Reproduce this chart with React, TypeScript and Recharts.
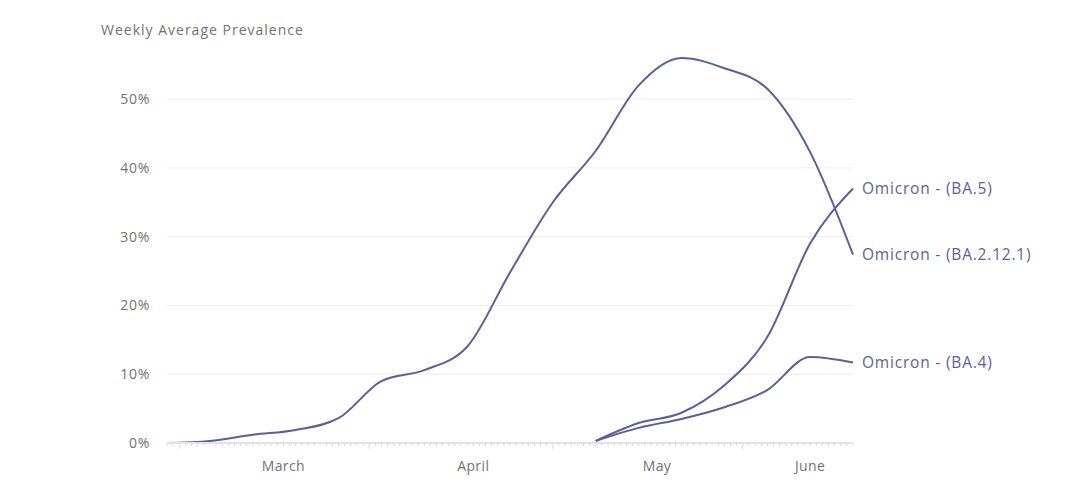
import { LineChart, Line, XAxis, YAxis, CartesianGrid, LabelList } from "recharts";

// days since Feb 27, one point per week
const days = [0, 7, 14, 21, 28, 35, 42, 49, 56, 63, 70, 77, 84, 91, 98, 105, 112];
const ba2121 = [0, 0.3, 1.2, 1.9, 3.6, 9.0, 10.6, 14.0, 24.8, 35.0, 42.5, 52.0, 56.0, 54.5, 51.5, 42.3, 27.4];
const ba5 = [null, null, null, null, null, null, null, null, null, null, 0.3, 2.9, 4.4, 8.4, 15.4, 29.0, 37.0];
const ba4 = [null, null, null, null, null, null, null, null, null, null, 0.3, 2.2, 3.5, 5.2, 7.7, 12.5, 11.7];

const seriesNames = ["Omicron - (BA.2.12.1)", "Omicron - (BA.5)", "Omicron - (BA.4)"];
const yTicks = [0, 10, 20, 30, 40, 50];
const gridValues = [10, 20, 30, 40, 50];
const monthStarts = [2, 33, 63, 94];
const monthLabels: Record<number, string> = { 19: "March", 50: "April", 80: "May", 105: "June" };

const dayTicks = Array.from({ length: 113 }, (_, i) => i);

const data = days.map((d, i) => ({
  day: d,
  ba2121: ba2121[i],
  ba5: ba5[i],
  ba4: ba4[i],
}));

const LINE = "#5b5f9c";
const TEXT = "#727272";
const FONT = "'Open Sans', 'Noto Sans', sans-serif";

function XTick(props: any) {
  const { x, y, payload } = props;
  const v = payload.value;
  const major = monthStarts.includes(v);
  const label = monthLabels[v];
  return (
    <g>
      <line x1={x} x2={x} y1={y - 8} y2={y - 8 + (major ? 6 : 3)} stroke="#d8d8e2" strokeWidth={1} />
      {label && (
        <text x={x} y={y + 20} textAnchor="middle" fill={TEXT} fontSize={14} letterSpacing={0.4} fontFamily={FONT}>
          {label}
        </text>
      )}
    </g>
  );
}

function YTick(props: any) {
  const { y, payload } = props;
  return (
    <text x={150} y={y + 5} textAnchor="end" fill={TEXT} fontSize={14} letterSpacing={0.7} fontFamily={FONT}>
      {payload.value}%
    </text>
  );
}

function endLabel(name: string, count: number) {
  return (props: any) => {
    const { x, y, index } = props;
    if (index !== count - 1) return null;
    return (
      <text x={x + 9} y={y + 5} fill={LINE} fontSize={15.5} letterSpacing={0.8} fontFamily={FONT}>
        {name}
      </text>
    );
  };
}

export default function App() {
  return (
    <div style={{ position: "relative", width: 1080, height: 492, background: "#fff" }}>
      <style>{`body{margin:0}`}</style>
      <div
        style={{
          position: "absolute",
          left: 101,
          top: 20,
          fontSize: 14,
          letterSpacing: 1.0,
          color: TEXT,
          fontFamily: FONT,
        }}
      >
        Weekly Average Prevalence
      </div>
      <LineChart width={1080} height={492} data={data} margin={{ top: 51, right: 227, bottom: 19, left: 0 }}>
        <CartesianGrid vertical={false} horizontalValues={gridValues} stroke="#ededf2" strokeWidth={1} />
        <XAxis
          dataKey="day"
          type="number"
          domain={[0, 112]}
          ticks={dayTicks}
          interval={0}
          height={30}
          axisLine={{ stroke: "#e2e2ea", strokeWidth: 2 }}
          tickLine={false}
          tick={<XTick />}
        />
        <YAxis
          type="number"
          domain={[0, 57]}
          ticks={yTicks}
          allowDataOverflow
          width={167}
          axisLine={false}
          tickLine={false}
          tick={<YTick />}
        />
        <Line type="monotone" dataKey="ba2121" stroke={LINE} strokeWidth={2} dot={false} isAnimationActive={false}>
          <LabelList dataKey="ba2121" content={endLabel(seriesNames[0], days.length)} />
        </Line>
        <Line type="monotone" dataKey="ba5" stroke={LINE} strokeWidth={2} dot={false} isAnimationActive={false}>
          <LabelList dataKey="ba5" content={endLabel(seriesNames[1], days.length)} />
        </Line>
        <Line type="monotone" dataKey="ba4" stroke={LINE} strokeWidth={2} dot={false} isAnimationActive={false}>
          <LabelList dataKey="ba4" content={endLabel(seriesNames[2], days.length)} />
        </Line>
      </LineChart>
    </div>
  );
}
